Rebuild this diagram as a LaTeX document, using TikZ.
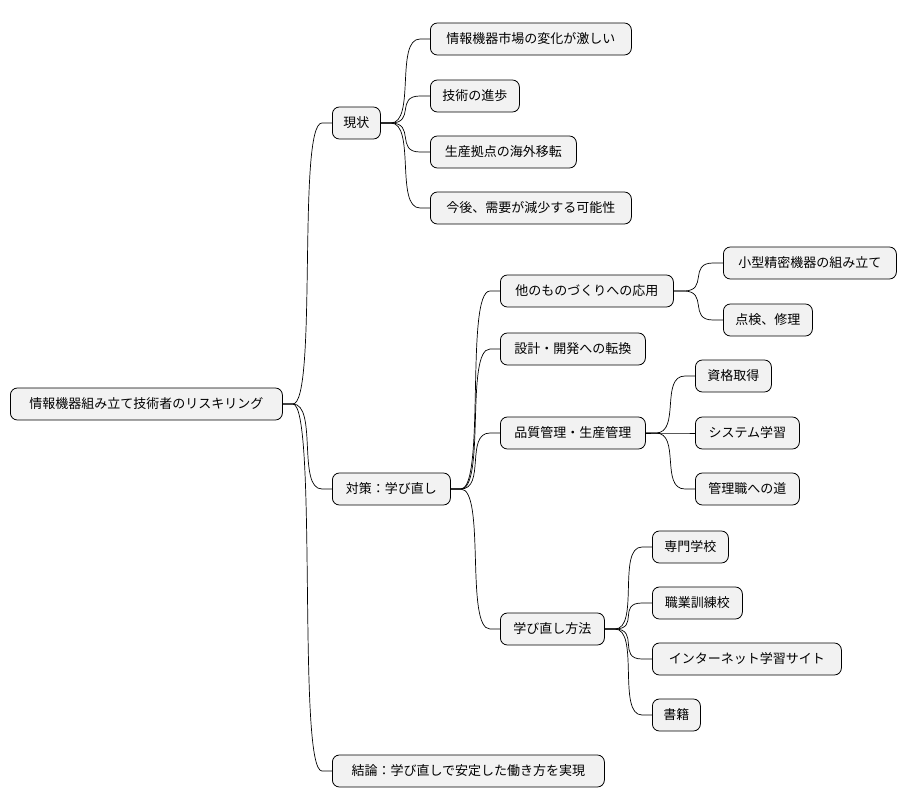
\documentclass[tikz,border=0pt]{standalone}
\usepackage{fontspec}
\setmainfont{Noto Sans CJK JP}
\usetikzlibrary{calc}
\tikzset{
  box/.style={draw=black, fill=gray!10, rounded corners=7pt, minimum height=32pt, inner xsep=8pt, anchor=west, font=\fontsize{13pt}{15pt}\selectfont, line width=0.8pt},
  link/.style={line width=0.7pt}
}
\newcommand{\lnk}[2]{\draw[link] (#1.east) -- ++(10,0) .. controls +(25,0) and +(-25,0) .. ($(#2.west)+(-10,0)$) -- (#2.west);}
\begin{document}
\begin{tikzpicture}[x=1pt,y=-1pt]
\useasboundingbox (0,0) rectangle (908,809);
\node[box,minimum width=272] (root) at (10,404) {情報機器組み立て技術者のリスキリング};
\node[box,minimum width=48] (gen) at (332,123) {現状};
\node[box,minimum width=201] (g1) at (430,39) {情報機器市場の変化が激しい};
\node[box,minimum width=89] (g2) at (430,96) {技術の進歩};
\node[box,minimum width=146] (g3) at (430,152) {生産拠点の海外移転};
\node[box,minimum width=201] (g4) at (430,208) {今後、需要が減少する可能性};
\node[box,minimum width=118] (tai) at (332,489) {対策：学び直し};
\node[box,minimum width=173] (t1) at (500,291) {他のものづくりへの応用};
\node[box,minimum width=173] (t11) at (723,263) {小型精密機器の組み立て};
\node[box,minimum width=89] (t12) at (723,320) {点検、修理};
\node[box,minimum width=145] (t2) at (500,349) {設計・開発への転換};
\node[box,minimum width=145] (t3) at (500,433) {品質管理・生産管理};
\node[box,minimum width=76] (t31) at (695,376) {資格取得};
\node[box,minimum width=104] (t32) at (695,433) {システム学習};
\node[box,minimum width=104] (t33) at (695,489) {管理職への道};
\node[box,minimum width=104] (t4) at (500,629) {学び直し方法};
\node[box,minimum width=76] (t41) at (652,547) {専門学校};
\node[box,minimum width=90] (t42) at (652,603) {職業訓練校};
\node[box,minimum width=189] (t43) at (652,659) {インターネット学習サイト};
\node[box,minimum width=48] (t44) at (652,715) {書籍};
\node[box,minimum width=272] (ket) at (332,771) {結論：学び直しで安定した働き方を実現};
\lnk{root}{gen}\lnk{root}{tai}\lnk{root}{ket}
\lnk{gen}{g1}\lnk{gen}{g2}\lnk{gen}{g3}\lnk{gen}{g4}
\lnk{tai}{t1}\lnk{tai}{t2}\lnk{tai}{t3}\lnk{tai}{t4}
\lnk{t1}{t11}\lnk{t1}{t12}
\lnk{t3}{t31}\lnk{t3}{t32}\lnk{t3}{t33}
\lnk{t4}{t41}\lnk{t4}{t42}\lnk{t4}{t43}\lnk{t4}{t44}
\end{tikzpicture}
\end{document}
